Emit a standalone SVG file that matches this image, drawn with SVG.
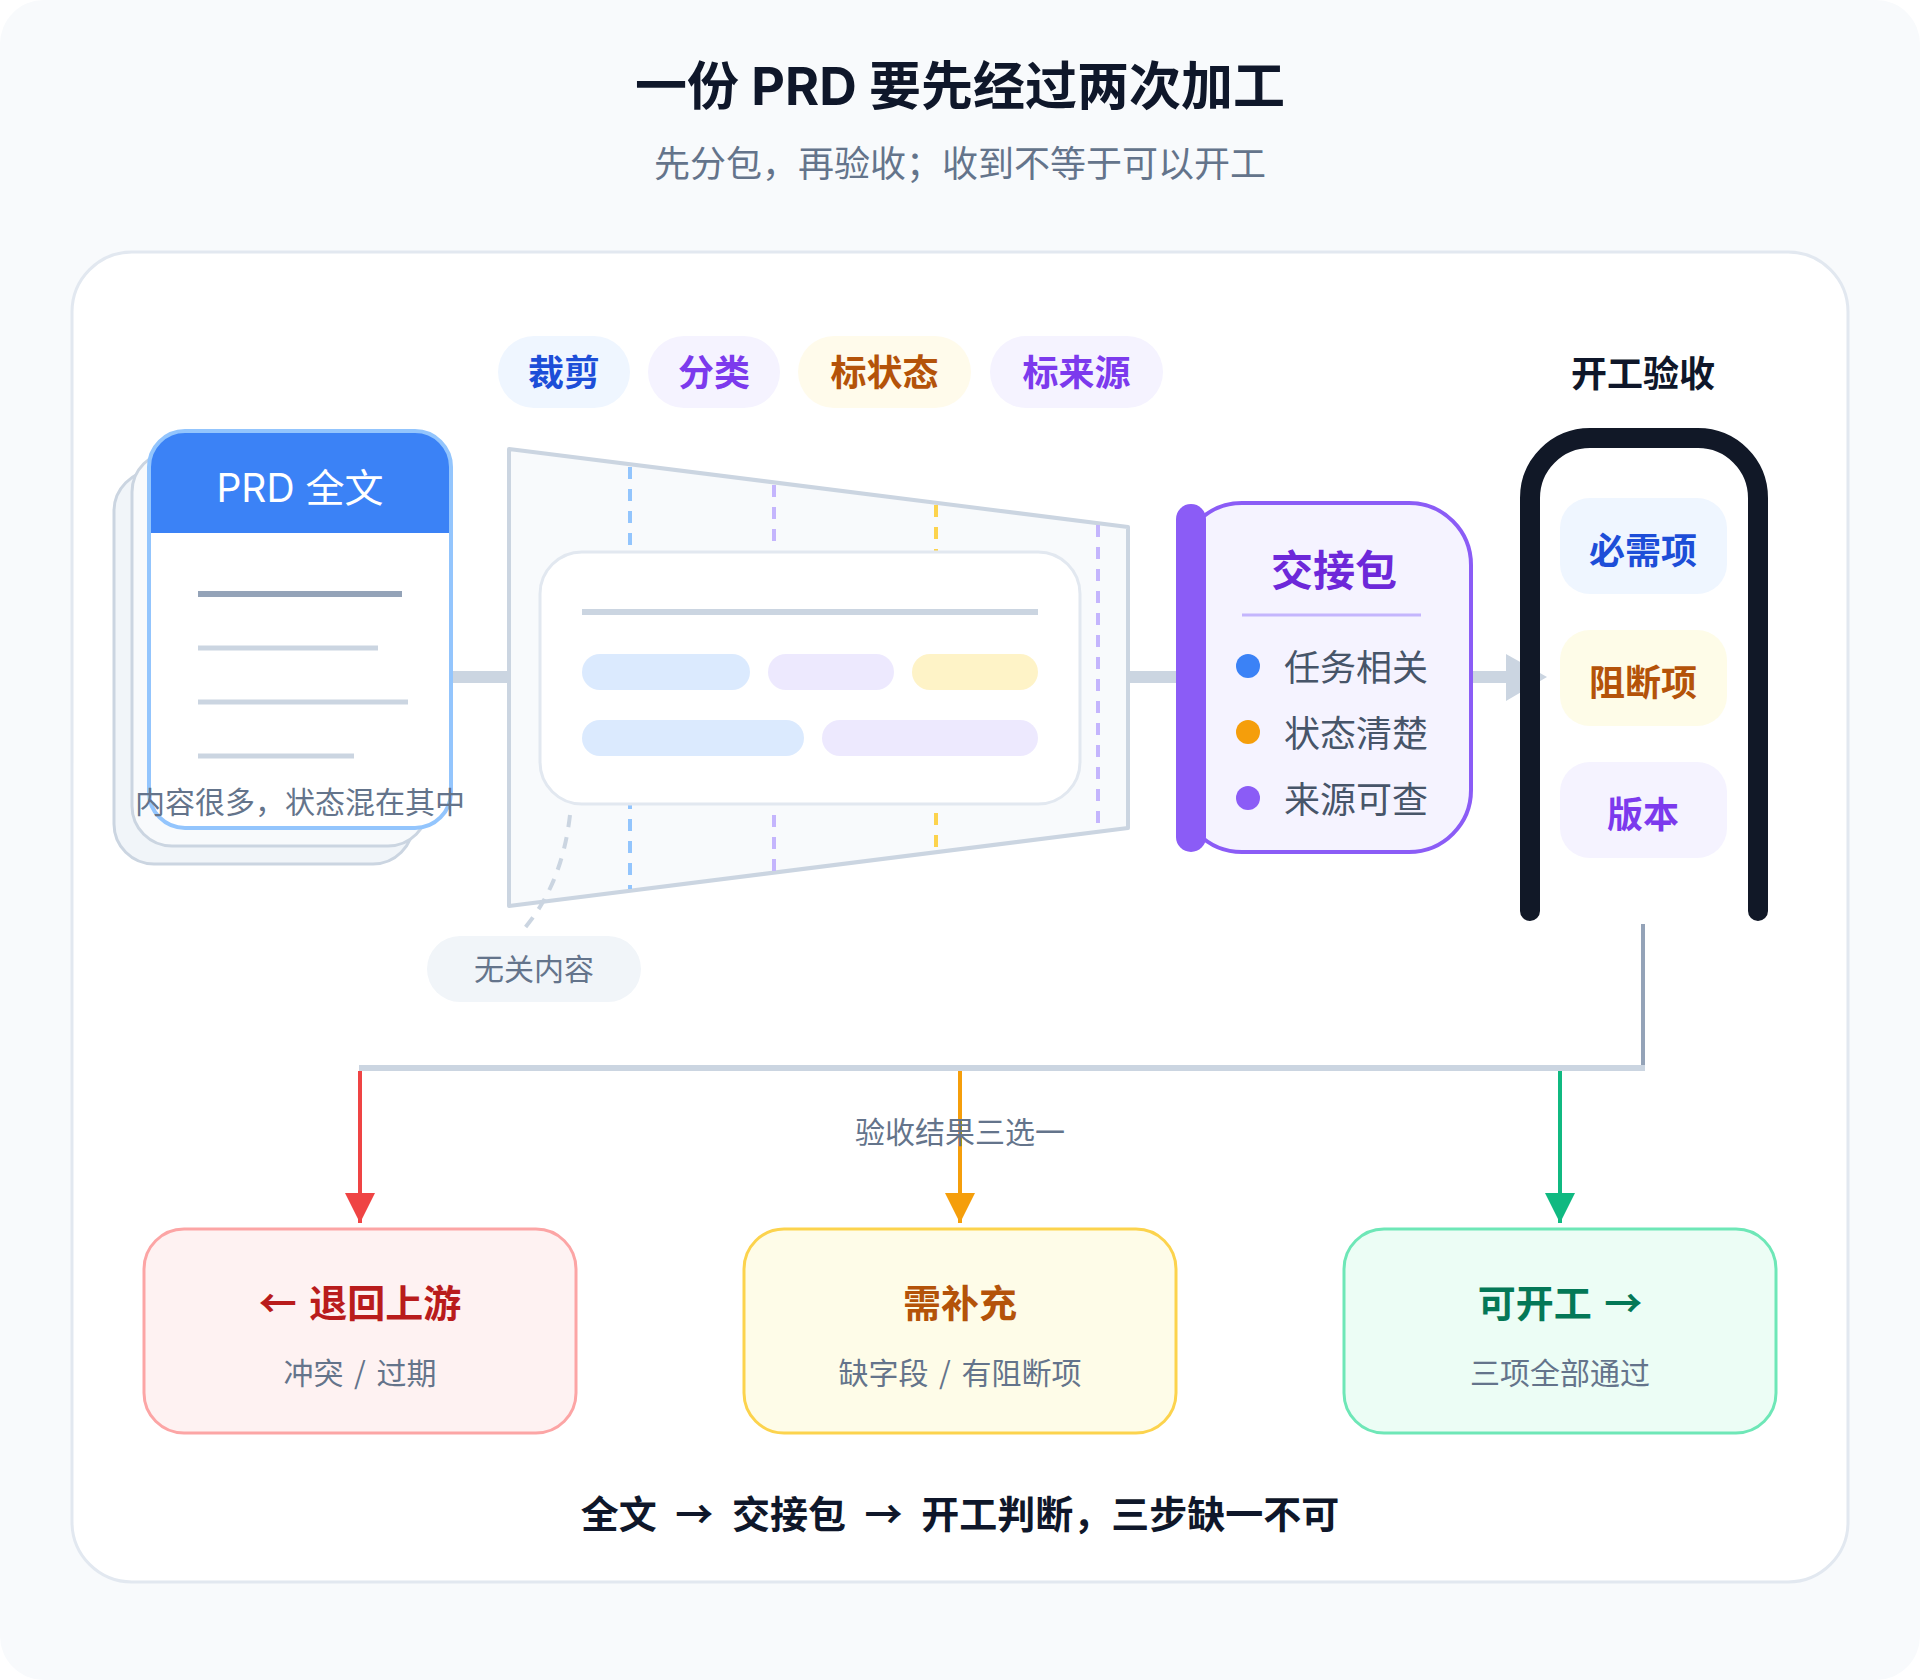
<svg xmlns="http://www.w3.org/2000/svg" width="1920" height="1680" viewBox="0 0 1920 1680">
<style>
text{font-family:"Inter","Noto Sans CJK SC",sans-serif;text-anchor:middle}
.cjk{font-family:"Noto Sans CJK SC",sans-serif;word-spacing:4px}
.b{font-weight:700}
.chip{font-size:36px;font-weight:700}
.muted{fill:#64748b}
.thick{stroke:#cbd5e1;stroke-width:12;fill:none}
.dash{stroke-width:4;stroke-dasharray:12 10;fill:none}
.res{fill:none;stroke-width:4}
</style>
<defs>
<marker id="ar" viewBox="0 0 10 10" refX="10" refY="5" markerWidth="30" markerHeight="30" markerUnits="userSpaceOnUse" orient="auto"><path d="M0,0 L10,5 L0,10 Z" fill="#ef4444"/></marker>
<marker id="ao" viewBox="0 0 10 10" refX="10" refY="5" markerWidth="30" markerHeight="30" markerUnits="userSpaceOnUse" orient="auto"><path d="M0,0 L10,5 L0,10 Z" fill="#f59e0b"/></marker>
<marker id="ag" viewBox="0 0 10 10" refX="10" refY="5" markerWidth="30" markerHeight="30" markerUnits="userSpaceOnUse" orient="auto"><path d="M0,0 L10,5 L0,10 Z" fill="#10b981"/></marker>
</defs>
<rect width="1920" height="1680" fill="#ffffff"/>
<rect width="1920" height="1680" rx="44" fill="#f8fafc"/>
<text x="960" y="105" class="b" font-size="52" fill="#0f172a">一份 PRD 要先经过两次加工</text>
<text x="960" y="177" font-size="36" fill="#64748b">先分包，再验收；收到不等于可以开工</text>
<rect x="72" y="252" width="1776" height="1330" rx="60" fill="#ffffff" stroke="#e2e8f0" stroke-width="3"/>

<g id="connectors">
<line x1="451" y1="677" x2="509" y2="677" class="thick"/>
<line x1="1128" y1="677" x2="1180" y2="677" class="thick"/>
<line x1="1471" y1="677" x2="1510" y2="677" class="thick"/>
<path d="M1506,654 L1547,677 L1506,701 Z" fill="#cbd5e1"/>
<line x1="1643" y1="924" x2="1643" y2="1068" stroke="#94a3b8" stroke-width="4"/>
<line x1="359" y1="1068" x2="1645" y2="1068" stroke="#cbd5e1" stroke-width="6"/>
<line x1="360" y1="1071" x2="360" y2="1223" class="res" stroke="#ef4444" marker-end="url(#ar)"/>
<line x1="960" y1="1071" x2="960" y2="1223" class="res" stroke="#f59e0b" marker-end="url(#ao)"/>
<line x1="1560" y1="1071" x2="1560" y2="1223" class="res" stroke="#10b981" marker-end="url(#ag)"/>
<text x="960" y="1143" font-size="30" class="muted">验收结果三选一</text>
</g>

<g id="prd">
<rect x="114" y="471" width="299" height="393" rx="40" fill="#f1f5f9" stroke="#cbd5e1" stroke-width="3"/>
<rect x="132" y="452" width="296" height="394" rx="40" fill="#f8fafc" stroke="#cbd5e1" stroke-width="3"/>
<rect x="149" y="431" width="302" height="397" rx="36" fill="#ffffff"/>
<path d="M149,533 V467 A36,36 0 0 1 185,431 H415 A36,36 0 0 1 451,467 V533 Z" fill="#3b82f6"/>
<rect x="149" y="431" width="302" height="397" rx="36" fill="none" stroke="#93c5fd" stroke-width="4"/>
<text x="300" y="502" font-size="39" fill="#ffffff">PRD 全文</text>
<line x1="198" y1="594" x2="402" y2="594" stroke="#94a3b8" stroke-width="6"/>
<line x1="198" y1="648" x2="378" y2="648" stroke="#cbd5e1" stroke-width="5"/>
<line x1="198" y1="702" x2="408" y2="702" stroke="#cbd5e1" stroke-width="5"/>
<line x1="198" y1="756" x2="354" y2="756" stroke="#cbd5e1" stroke-width="5"/>
<text x="300" y="813" font-size="30" class="muted">内容很多，状态混在其中</text>
</g>

<g id="chips">
<rect x="498" y="336" width="132" height="72" rx="36" fill="#eff6ff"/>
<text x="564" y="386" class="chip" fill="#1d4ed8">裁剪</text>
<rect x="648" y="336" width="132" height="72" rx="36" fill="#f5f3ff"/>
<text x="714" y="386" class="chip" fill="#7c3aed">分类</text>
<rect x="798" y="336" width="173" height="72" rx="36" fill="#fffbeb"/>
<text x="884.5" y="386" class="chip" fill="#b45309">标状态</text>
<rect x="990" y="336" width="173" height="72" rx="36" fill="#f5f3ff"/>
<text x="1076.5" y="386" class="chip" fill="#7c3aed">标来源</text>
</g>

<g id="funnel">
<path d="M509,449 L1128,527 L1128,828 L509,906 Z" fill="#f8fafc" stroke="#cbd5e1" stroke-width="4" stroke-linejoin="round"/>
<line x1="630" y1="467" x2="630" y2="889" class="dash" stroke="#93c5fd"/>
<line x1="774" y1="485" x2="774" y2="871" class="dash" stroke="#c4b5fd"/>
<line x1="936" y1="505" x2="936" y2="851" class="dash" stroke="#fcd34d"/>
<line x1="1098" y1="525" x2="1098" y2="832" class="dash" stroke="#c4b5fd"/>
<rect x="540" y="552" width="540" height="252" rx="42" fill="#ffffff" stroke="#e2e8f0" stroke-width="3"/>
<line x1="582" y1="612" x2="1038" y2="612" stroke="#cbd5e1" stroke-width="6"/>
<rect x="582" y="654" width="168" height="36" rx="18" fill="#dbeafe"/>
<rect x="768" y="654" width="126" height="36" rx="18" fill="#ede9fe"/>
<rect x="912" y="654" width="126" height="36" rx="18" fill="#fef3c7"/>
<rect x="582" y="720" width="222" height="36" rx="18" fill="#dbeafe"/>
<rect x="822" y="720" width="216" height="36" rx="18" fill="#ede9fe"/>
<path d="M570,815 Q562,885 523,930" class="dash" stroke="#cbd5e1"/>
</g>

<g id="irrelevant">
<rect x="427" y="936" width="214" height="66" rx="33" fill="#f1f5f9"/>
<text x="534" y="980" font-size="30" class="muted">无关内容</text>
</g>

<g id="package">
<rect x="1180" y="503" width="291" height="349" rx="62" fill="#f5f3ff" stroke="#8b5cf6" stroke-width="4"/>
<rect x="1176" y="504" width="30" height="348" rx="15" fill="#8b5cf6"/>
<text x="1334" y="586" class="b" font-size="42" fill="#6d28d9">交接包</text>
<line x1="1242" y1="615" x2="1421" y2="615" stroke="#c4b5fd" stroke-width="3"/>
<circle cx="1248" cy="666" r="12" fill="#3b82f6"/>
<circle cx="1248" cy="732" r="12" fill="#f59e0b"/>
<circle cx="1248" cy="798" r="12" fill="#8b5cf6"/>
<text x="1356" y="681" font-size="36" fill="#475569">任务相关</text>
<text x="1356" y="747" font-size="36" fill="#475569">状态清楚</text>
<text x="1356" y="813" font-size="36" fill="#475569">来源可查</text>
</g>

<g id="gate">
<text x="1643" y="387" class="b" font-size="36" fill="#0f172a">开工验收</text>
<path d="M1530,911 V498 A60,60 0 0 1 1590,438 H1698 A60,60 0 0 1 1758,498 V911" fill="none" stroke="#111827" stroke-width="20" stroke-linecap="round"/>
<rect x="1560" y="498" width="167" height="96" rx="30" fill="#eff6ff"/>
<text x="1643" y="564" class="chip" fill="#1d4ed8">必需项</text>
<rect x="1560" y="630" width="167" height="96" rx="30" fill="#fefce8"/>
<text x="1643" y="696" class="chip" fill="#b45309">阻断项</text>
<rect x="1560" y="762" width="167" height="96" rx="30" fill="#f5f3ff"/>
<text x="1643" y="828" class="chip" fill="#7c3aed">版本</text>
</g>

<g id="upstream">
<rect x="144" y="1229" width="432" height="204" rx="40" fill="#fef2f2" stroke="#fca5a5" stroke-width="3"/>
<text x="360" y="1317" class="b cjk" font-size="38" fill="#b91c1c">← 退回上游</text>
<text x="360" y="1384" font-size="30" class="muted cjk">冲突 / 过期</text>
</g>
<g id="supplement">
<rect x="744" y="1229" width="432" height="204" rx="40" fill="#fefce8" stroke="#fcd34d" stroke-width="3"/>
<text x="960" y="1317" class="b cjk" font-size="38" fill="#b45309">需补充</text>
<text x="960" y="1384" font-size="30" class="muted cjk">缺字段 / 有阻断项</text>
</g>
<g id="start">
<rect x="1344" y="1229" width="432" height="204" rx="40" fill="#ecfdf5" stroke="#6ee7b7" stroke-width="3"/>
<text x="1560" y="1317" class="b cjk" font-size="38" fill="#047857">可开工 →</text>
<text x="1560" y="1384" font-size="30" class="muted cjk">三项全部通过</text>
</g>
<text x="960" y="1528" class="b cjk" font-size="38" fill="#0f172a" style="word-spacing:10px">全文 → 交接包 → 开工判断，三步缺一不可</text>
</svg>
